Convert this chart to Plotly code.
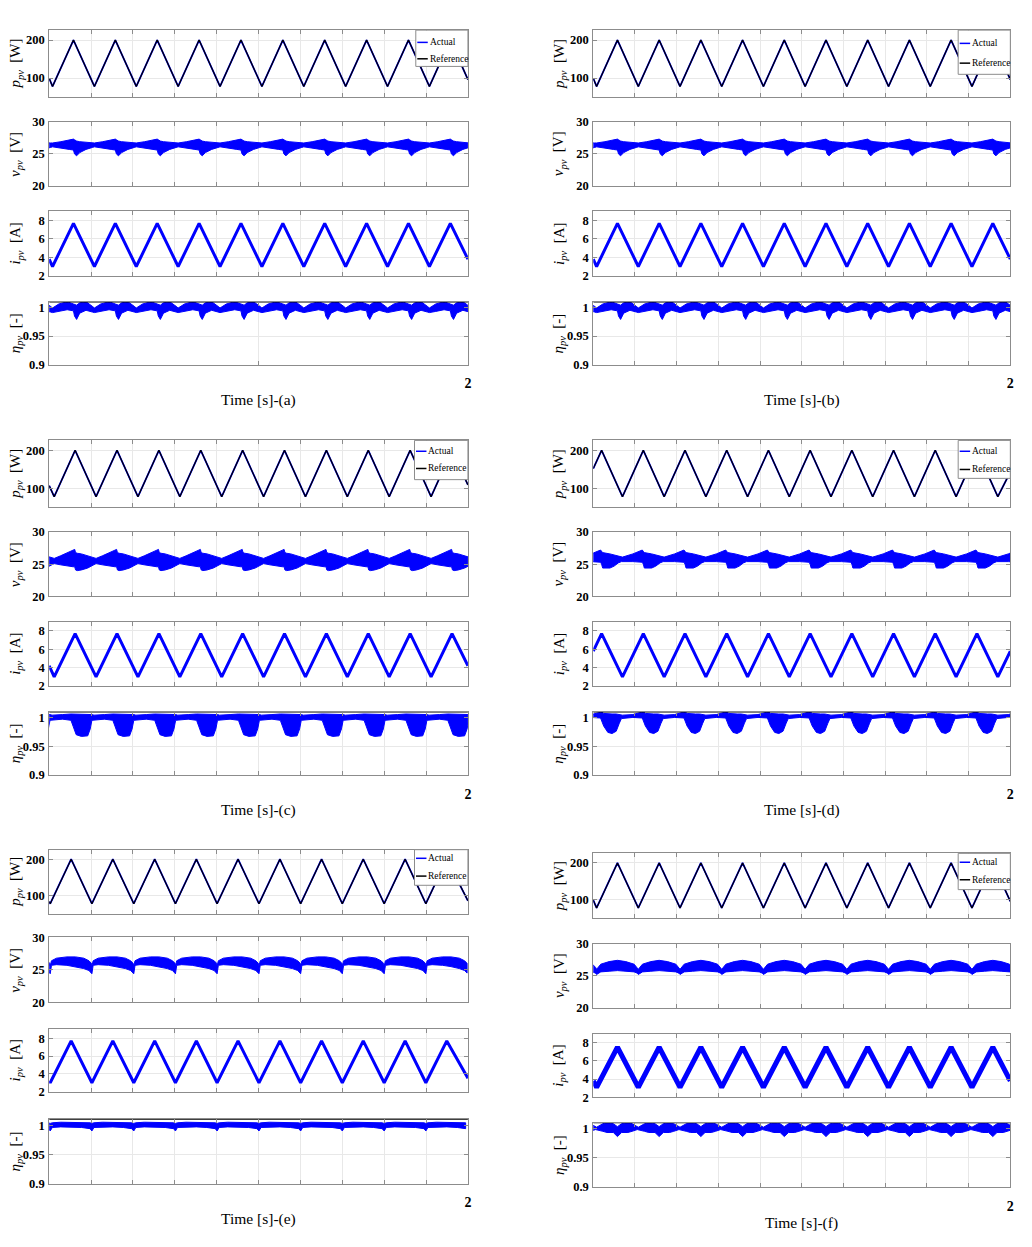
import plotly.graph_objects as go

# ======================= DATA =======================
# Vertex times [s] and values of the triangular PV power / current profiles
t_vtx_abf = [0.0, 0.016, 0.116, 0.216, 0.316, 0.416, 0.516, 0.616, 0.716, 0.816, 0.916,
             1.016, 1.116, 1.216, 1.316, 1.416, 1.516, 1.616, 1.716, 1.816, 1.916, 2.0]
p_vtx_abf = [99, 78, 200, 78, 200, 78, 200, 78, 200, 78, 200,
             78, 200, 78, 200, 78, 200, 78, 200, 78, 200, 96]
i_vtx_ab = [3.8, 3.0, 7.7, 3.0, 7.7, 3.0, 7.7, 3.0, 7.7, 3.0, 7.7,
            3.0, 7.7, 3.0, 7.7, 3.0, 7.7, 3.0, 7.7, 3.0, 7.7, 3.8]
i_vtx_f = [3.8, 3.1, 7.5, 3.1, 7.5, 3.1, 7.5, 3.1, 7.5, 3.1, 7.5,
           3.1, 7.5, 3.1, 7.5, 3.1, 7.5, 3.1, 7.5, 3.1, 7.5, 3.8]

t_vtx_c = [0.0, 0.024, 0.124, 0.224, 0.324, 0.424, 0.524, 0.624, 0.724, 0.824, 0.924,
           1.024, 1.124, 1.224, 1.324, 1.424, 1.524, 1.624, 1.724, 1.824, 1.924, 2.0]
p_vtx_c = [107, 78, 200, 78, 200, 78, 200, 78, 200, 78, 200,
           78, 200, 78, 200, 78, 200, 78, 200, 78, 200, 109]
i_vtx_c = [4.2, 3.0, 7.7, 3.0, 7.7, 3.0, 7.7, 3.0, 7.7, 3.0, 7.7,
           3.0, 7.7, 3.0, 7.7, 3.0, 7.7, 3.0, 7.7, 3.0, 7.7, 4.2]

t_vtx_d = [0.0, 0.04, 0.14, 0.24, 0.34, 0.44, 0.54, 0.64, 0.74, 0.84, 0.94,
           1.04, 1.14, 1.24, 1.34, 1.44, 1.54, 1.64, 1.74, 1.84, 1.94, 2.0]
p_vtx_d = [152, 200, 78, 200, 78, 200, 78, 200, 78, 200, 78,
           200, 78, 200, 78, 200, 78, 200, 78, 200, 78, 143]
i_vtx_d = [5.8, 7.7, 3.0, 7.7, 3.0, 7.7, 3.0, 7.7, 3.0, 7.7, 3.0,
           7.7, 3.0, 7.7, 3.0, 7.7, 3.0, 7.7, 3.0, 7.7, 3.0, 5.8]

t_vtx_e = [0.0, 0.005, 0.105, 0.204, 0.304, 0.404, 0.504, 0.603, 0.703, 0.802, 0.902,
           1.002, 1.102, 1.201, 1.301, 1.400, 1.500, 1.600, 1.700, 1.799, 1.899, 2.0]
p_vtx_e = [84, 78, 200, 78, 200, 78, 200, 78, 200, 78, 200,
           78, 200, 78, 200, 78, 200, 78, 200, 78, 200, 86]
i_vtx_e = [3.2, 3.0, 7.7, 3.0, 7.7, 3.0, 7.7, 3.0, 7.7, 3.0, 7.7,
           3.0, 7.7, 3.0, 7.7, 3.0, 7.7, 3.0, 7.7, 3.0, 7.7, 3.5]

# Start times [s] of each switching cycle (power troughs)
cyc_abf = [-0.184, 0.016, 0.216, 0.416, 0.616, 0.816, 1.016, 1.216, 1.416, 1.616, 1.816]
cyc_c = [-0.176, 0.024, 0.224, 0.424, 0.624, 0.824, 1.024, 1.224, 1.424, 1.624, 1.824]
cyc_d = [-0.06, 0.14, 0.34, 0.54, 0.74, 0.94, 1.14, 1.34, 1.54, 1.74, 1.94]
cyc_e = [-0.194, 0.005, 0.204, 0.404, 0.603, 0.802, 1.002, 1.201, 1.400, 1.600, 1.799]

# Measured envelope of the noisy v_pv band over one cycle (offset from cycle start)
v_dt_ab = [0.0, 0.04, 0.08, 0.1, 0.105, 0.115, 0.13, 0.16, 0.19]
v_up_ab = [26.7, 26.9, 27.1, 27.3, 27.2, 27.0, 26.9, 26.8, 26.7]
v_lo_ab = [26.1, 25.9, 25.7, 25.6, 25.0, 24.7, 25.2, 25.7, 26.0]

v_dt_c = [0.0, 0.03, 0.06, 0.09, 0.098, 0.102, 0.11, 0.13, 0.16, 0.19]
v_up_c = [25.9, 26.3, 26.7, 27.1, 27.3, 26.8, 26.7, 26.6, 26.3, 26.0]
v_lo_c = [25.1, 24.9, 24.7, 24.6, 24.6, 24.1, 24.0, 24.1, 24.4, 24.9]

v_dt_d = [0.0, 0.05, 0.095, 0.1, 0.105, 0.14, 0.16, 0.18, 0.195]
v_up_d = [26.1, 26.6, 27.2, 27.0, 26.8, 26.6, 26.4, 26.2, 26.1]
v_lo_d = [25.4, 25.4, 25.3, 25.0, 24.4, 24.4, 24.7, 25.2, 25.4]

v_dt_e = [0.0, 0.006, 0.03, 0.08, 0.12, 0.16, 0.185, 0.197]
v_up_e = [25.6, 26.4, 26.8, 27.0, 27.0, 26.8, 26.4, 26.0]
v_lo_e = [24.4, 25.7, 25.8, 25.7, 25.5, 25.2, 24.9, 24.5]

v_dt_f = [0.0, 0.02, 0.06, 0.1, 0.14, 0.18, 0.195]
v_up_f = [26.0, 26.8, 27.2, 27.4, 27.2, 26.8, 26.3]
v_lo_f = [25.2, 25.6, 25.7, 25.8, 25.7, 25.6, 25.4]

# Measured envelope of the noisy eta_pv band over one cycle
e_dt_ab = [0.0, 0.03, 0.07, 0.1, 0.105, 0.115, 0.13, 0.16, 0.19]
e_up_ab = [0.999, 1.006, 1.01, 1.006, 1.005, 1.004, 1.008, 1.01, 1.002]
e_lo_ab = [0.991, 0.993, 0.996, 0.994, 0.985, 0.979, 0.99, 0.995, 0.992]

e_dt_c = [0.0, 0.04, 0.08, 0.09, 0.105, 0.13, 0.16, 0.172, 0.18, 0.19]
e_up_c = [1.004, 1.005, 1.006, 1.006, 1.006, 1.006, 1.006, 1.006, 1.005, 1.004]
e_lo_c = [0.996, 0.997, 0.995, 0.985, 0.970, 0.967, 0.968, 0.98, 0.995, 0.996]

e_dt_d = [0.0, 0.05, 0.095, 0.1, 0.11, 0.13, 0.15, 0.17, 0.185, 0.195]
e_up_d = [1.004, 1.005, 1.009, 1.01, 1.007, 1.006, 1.006, 1.006, 1.005, 1.004]
e_lo_d = [0.999, 1.0, 0.999, 0.996, 0.985, 0.974, 0.972, 0.976, 0.99, 0.998]

e_dt_e = [0.0, 0.01, 0.05, 0.1, 0.15, 0.19]
e_up_e = [1.003, 1.004, 1.005, 1.005, 1.005, 1.004]
e_lo_e = [0.990, 0.996, 0.997, 0.997, 0.996, 0.994]

e_dt_f = [0.0, 0.03, 0.05, 0.08, 0.1, 0.12, 0.15, 0.17, 0.195]
e_up_f = [1.002, 1.008, 1.01, 1.008, 1.003, 1.008, 1.01, 1.008, 1.003]
e_lo_f = [0.998, 0.995, 0.993, 0.993, 0.986, 0.993, 0.993, 0.995, 0.998]

eta_ref_t = [0.0, 2.0]
eta_ref_v = [1.01, 1.01]

panel_tags = ["a", "b", "c", "d", "e", "f"]
legend_labels = ["Actual", "Reference"]

# ======================= LAYOUT (pixel geometry) =======================
OFF = 8
FIG_W, FIG_H = 1032 - 2 * OFF, 1247 - 2 * OFF

def px(X):
    return (X - OFF) / FIG_W

def py(Y):
    return 1 - (Y - OFF) / FIG_H

COLS = {"L": (49.3, 469.3), "R": (595.0, 1013.3)}
panels = [
    dict(col="L", rows=[(23.3, 91), (116, 181), (206.7, 271.7), (298, 361.7)], ty=397,
         leg=(417, 23.3, 469.3, 60, 35.7, 52.3),
         t=t_vtx_abf, p=p_vtx_abf, i=i_vtx_ab, iw=3, cyc=cyc_abf,
         v=(v_dt_ab, v_up_ab, v_lo_ab), e=(e_dt_ab, e_up_ab, e_lo_ab), egrid=[1.0]),
    dict(col="R", rows=[(23.3, 91), (116, 181), (206.7, 271.7), (298, 361.7)], ty=397,
         leg=(961, 23.3, 1013.3, 68, 36.7, 56.7),
         t=t_vtx_abf, p=p_vtx_abf, i=i_vtx_ab, iw=3, cyc=cyc_abf,
         v=(v_dt_ab, v_up_ab, v_lo_ab), e=(e_dt_ab, e_up_ab, e_lo_ab), egrid=None),
    dict(col="L", rows=[(438.3, 506), (531, 596), (621.7, 686.7), (712.7, 776.7)], ty=811.7,
         leg=(415.7, 438.3, 469.3, 478, 449.3, 466.7),
         t=t_vtx_c, p=p_vtx_c, i=i_vtx_c, iw=3, cyc=cyc_c,
         v=(v_dt_c, v_up_c, v_lo_c), e=(e_dt_c, e_up_c, e_lo_c), egrid=None),
    dict(col="R", rows=[(438.3, 506), (531, 596), (621.7, 686.7), (712.7, 776.7)], ty=811.7,
         leg=(961, 438.3, 1013.3, 476.7, 449.3, 467.7),
         t=t_vtx_d, p=p_vtx_d, i=i_vtx_d, iw=3, cyc=cyc_d,
         v=(v_dt_d, v_up_d, v_lo_d), e=(e_dt_d, e_up_d, e_lo_d), egrid=None),
    dict(col="L", rows=[(852.3, 917.3), (941, 1006.7), (1034, 1097), (1125, 1190)], ty=1226,
         leg=(415.7, 852.3, 469.3, 888.3, 861, 879),
         t=t_vtx_e, p=p_vtx_e, i=i_vtx_e, iw=3, cyc=cyc_e,
         v=(v_dt_e, v_up_e, v_lo_e), e=(e_dt_e, e_up_e, e_lo_e), egrid=None),
    dict(col="R", rows=[(856, 921.7), (947.3, 1012.3), (1038.3, 1102.7), (1128.3, 1193.3)], ty=1230,
         leg=(961, 856, 1013.3, 892.7, 865, 882.7),
         t=t_vtx_abf, p=p_vtx_abf, i=i_vtx_f, iw=5, cyc=cyc_abf,
         v=(v_dt_f, v_up_f, v_lo_f), e=(e_dt_f, e_up_f, e_lo_f), egrid=None),
]

row_specs = [
    dict(range=[50, 226], tickvals=[100, 200], ticktext=["100", "200"],
         label="<i>p</i><sub><i>pv</i></sub>&nbsp;&nbsp;[W]"),
    dict(range=[20, 30], tickvals=[20, 25, 30], ticktext=["20", "25", "30"],
         label="<i>v</i><sub><i>pv</i></sub>&nbsp;&nbsp;[V]"),
    dict(range=[2, 9], tickvals=[2, 4, 6, 8], ticktext=["2", "4", "6", "8"],
         label="<i>i</i><sub><i>pv</i></sub>&nbsp;&nbsp;[A]"),
    dict(range=[0.9, 1.01], tickvals=[0.9, 0.95, 1.0], ticktext=["0.9", "0.95", "1"],
         label="<i>η</i><sub><i>pv</i></sub>&nbsp;&nbsp;[-]"),
]

BLUE = "rgb(0,0,255)"
AXC = "#8c8c8c"
GRIDC = "#e8e8e8"
SERIF = "Liberation Serif, Times New Roman, serif"
xgrid = [0.2, 0.4, 0.6, 0.8, 1.0, 1.2, 1.4, 1.6, 1.8]


def band(cycles, dt, up, lo):
    ts, us, ls = [], [], []
    for c in cycles:
        for d, u, l in zip(dt, up, lo):
            ts.append(c + d)
            us.append(u)
            ls.append(l)
    return ts + ts[::-1], us + ls[::-1]


fig = go.Figure()
layout = dict(width=FIG_W, height=FIG_H, margin=dict(l=0, r=0, t=0, b=0),
              paper_bgcolor="white", plot_bgcolor="white", showlegend=False,
              shapes=[], annotations=[])

for pi, pan in enumerate(panels):
    x0, x1 = COLS[pan["col"]]
    for r in range(4):
        n = pi * 4 + r + 1
        sfx = "" if n == 1 else str(n)
        top, bot = pan["rows"][r]
        spec = row_specs[r]
        is_last = r == 3
        gx = xgrid
        if is_last and pan["egrid"] is not None:
            gx = pan["egrid"]
        xa_cfg = dict(
            domain=[px(x0), px(x1)], range=[0, 2], anchor="y" + sfx,
            showgrid=False, showline=True, linecolor=AXC, linewidth=1, mirror="ticks",
            ticks="inside", ticklen=4, tickcolor=AXC, zeroline=False,
            minor=dict(tickvals=gx, showgrid=True, gridcolor=GRIDC, gridwidth=1,
                       ticks="inside", ticklen=4, tickcolor=AXC),
            fixedrange=True)
        if is_last:
            xa_cfg.update(tickvals=[2.0], ticktext=["2"], showticklabels=True,
                          tickfont=dict(family=SERIF, size=14, color="black", weight="bold"),
                          ticklabelstandoff=6)
        else:
            xa_cfg.update(tickvals=[2.0], showticklabels=False)
        layout["xaxis" + sfx] = xa_cfg
        layout["yaxis" + sfx] = dict(
            domain=[py(bot), py(top)], range=spec["range"], anchor="x" + sfx,
            tickvals=spec["tickvals"], ticktext=spec["ticktext"],
            showgrid=True, gridcolor=GRIDC, gridwidth=1,
            showline=True, linecolor=AXC, linewidth=1, mirror="ticks",
            ticks="inside", ticklen=4, tickcolor=AXC, zeroline=False,
            tickfont=dict(family=SERIF, size=12.5, color="black", weight="bold"),
            ticklabelstandoff=1, fixedrange=True)
        xa, ya = "x" + sfx, "y" + sfx
        if r == 0:
            fig.add_trace(go.Scatter(x=pan["t"], y=pan["p"], mode="lines", xaxis=xa, yaxis=ya,
                                     line=dict(color=BLUE, width=1.8)))
            fig.add_trace(go.Scatter(x=pan["t"], y=pan["p"], mode="lines", xaxis=xa, yaxis=ya,
                                     line=dict(color="black", width=1.2)))
        elif r == 1:
            bx, by = band(pan["cyc"], *pan["v"])
            fig.add_trace(go.Scatter(x=bx, y=by, mode="lines", fill="toself", fillcolor=BLUE,
                                     xaxis=xa, yaxis=ya, line=dict(color=BLUE, width=1)))
        elif r == 2:
            fig.add_trace(go.Scatter(x=pan["t"], y=pan["i"], mode="lines", xaxis=xa, yaxis=ya,
                                     line=dict(color=BLUE, width=pan["iw"])))
        else:
            bx, by = band(pan["cyc"], *pan["e"])
            fig.add_trace(go.Scatter(x=bx, y=by, mode="lines", fill="toself", fillcolor=BLUE,
                                     xaxis=xa, yaxis=ya, line=dict(color=BLUE, width=1)))
            fig.add_trace(go.Scatter(x=eta_ref_t, y=eta_ref_v, mode="lines", xaxis=xa, yaxis=ya,
                                     line=dict(color="black", width=1.5)))
        # y-axis label
        lab_x = 16 if pan["col"] == "L" else 561
        layout["annotations"].append(dict(
            x=px(lab_x), y=py((top + bot) / 2), xref="paper", yref="paper",
            text=spec["label"], textangle=-90, showarrow=False,
            xanchor="center", yanchor="middle",
            font=dict(family=SERIF, size=15, color="black")))
    # x-axis title
    layout["annotations"].append(dict(
        x=px((x0 + x1) / 2), y=py(pan["ty"]), xref="paper", yref="paper",
        text="Time [s]-(" + panel_tags[pi] + ")", showarrow=False,
        xanchor="center", yanchor="middle",
        font=dict(family=SERIF, size=15.5, color="black")))
    # legend box
    lx0, ly0, lx1, ly1, ya_, yr_ = pan["leg"]
    layout["shapes"].append(dict(type="rect", xref="paper", yref="paper",
                                 x0=px(lx0), x1=px(lx1), y0=py(ly1), y1=py(ly0),
                                 line=dict(color=AXC, width=1), fillcolor="white", layer="above"))
    for yy, col, txt in [(ya_, BLUE, legend_labels[0]), (yr_, "black", legend_labels[1])]:
        layout["shapes"].append(dict(type="line", xref="paper", yref="paper",
                                     x0=px(lx0 + 1.5), x1=px(lx0 + 12), y0=py(yy), y1=py(yy),
                                     line=dict(color=col, width=1.5), layer="above"))
        layout["annotations"].append(dict(
            x=px(lx0 + 12), y=py(yy), xref="paper", yref="paper", text=txt,
            showarrow=False, xanchor="left", yanchor="middle",
            font=dict(family=SERIF, size=9.5, color="black")))

fig.update_layout(**layout)
fig.write_html("out.html")
